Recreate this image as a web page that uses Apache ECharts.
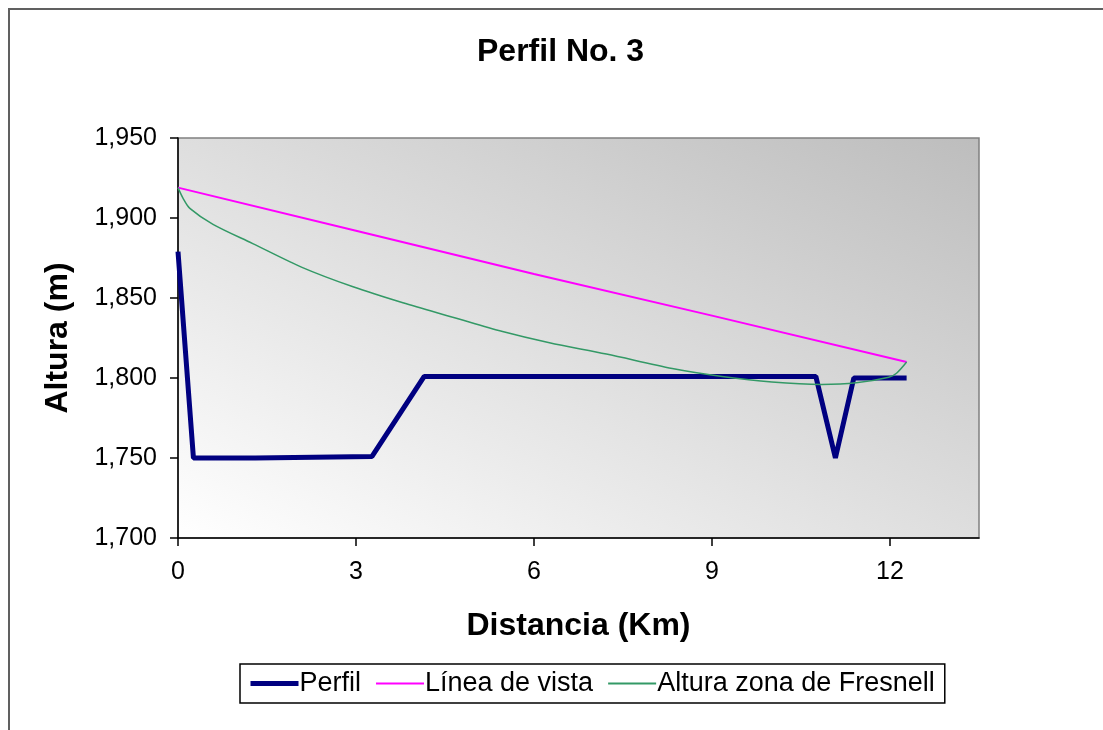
<!DOCTYPE html>
<html>
<head>
<meta charset="utf-8">
<script src="https://cdn.jsdelivr.net/npm/echarts@6/dist/echarts.min.js"></script>
<style>
html,body{margin:0;padding:0;background:#fff;}
#chart{width:1103px;height:730px;}
</style>
</head>
<body>
<div id="chart"></div>
<script>
// Data
const titleText = 'Perfil No. 3';
const seriesNames = ['Perfil', 'Línea de vista', 'Altura zona de Fresnell'];

const distPerfil = [0, 0.26, 1.3, 1.31, 3.27, 4.15, 10.75, 11.08, 11.39, 12.28];
const altPerfil  = [1879, 1750, 1750, 1751, 1751, 1801, 1801, 1750, 1800, 1800];

const distVista = [0, 3, 6, 9, 12.28];
const altVista  = [1919, 1892, 1865, 1839, 1810];

const distFresnel = [0, 0.09, 0.2, 0.59, 1.26, 2.1, 2.95, 3.79, 4.63, 5.47, 6.26, 7.22, 8.33, 9.17, 10.01, 10.85, 11.43, 11.98, 12.11, 12.28];
const altFresnel  = [1919, 1912, 1906, 1896, 1884, 1869, 1857, 1847, 1838, 1829, 1822, 1815, 1806, 1801, 1797.5, 1796, 1797, 1800.5, 1803, 1810];

const xTicks = [0, 3, 6, 9, 12];
const yTicks = [1700, 1750, 1800, 1850, 1900, 1950];

function pairs(xs, ys) { return xs.map((x, i) => [x, ys[i]]); }

const chart = echarts.init(document.getElementById('chart'), null, {renderer: 'canvas'});
const font = 'Arial, "Liberation Sans", sans-serif';

chart.setOption({
  animation: false,
  backgroundColor: '#ffffff',
  graphic: [{
    type: 'rect',
    shape: {x: 9, y: 9, width: 1200, height: 800},
    style: {fill: 'none', stroke: '#606060', lineWidth: 2},
    silent: true, z: -1
  }],
  title: {
    text: titleText,
    left: 477,
    top: 36,
    padding: 0,
    textStyle: {fontFamily: font, fontSize: 32, fontWeight: 'bold', color: '#000'}
  },
  legend: {
    left: 240,
    top: 664,
    orient: 'horizontal',
    itemWidth: 48,
    itemHeight: 12,
    itemGap: 14,
    padding: [6, 10, 6, 8],
    borderColor: '#000',
    borderWidth: 1.5,
    itemStyle: {opacity: 0},
    textStyle: {fontFamily: font, fontSize: 27, color: '#000', padding: [0, 0, 0, -4]},
    data: [
      {name: seriesNames[0], lineStyle: {width: 5, color: '#000080'}},
      {name: seriesNames[1], lineStyle: {width: 2, color: '#ff00ff'}},
      {name: seriesNames[2], lineStyle: {width: 2, color: '#339966'}}
    ]
  },
  grid: {
    left: 178, top: 138, right: 124, bottom: 192,
    show: true,
    borderColor: '#808080',
    borderWidth: 1.5,
    backgroundColor: new echarts.graphic.LinearGradient(418.6, 658.2, 738.4, 17.8, [
      {offset: 0, color: '#ffffff'},
      {offset: 1, color: '#bdbdbd'}
    ], true)
  },
  xAxis: {
    type: 'value',
    min: 0, max: 13.5, interval: 3,
    name: 'Distancia (Km)',
    nameLocation: 'middle',
    nameGap: 72,
    nameTextStyle: {fontFamily: font, fontSize: 32, fontWeight: 'bold', color: '#000'},
    axisLine: {show: true, onZero: false, lineStyle: {color: '#000', width: 1.5}},
    axisTick: {show: true, inside: false, length: 8, lineStyle: {color: '#000', width: 1.5}},
    axisLabel: {
      margin: 22,
      fontFamily: font, fontSize: 25, color: '#000',
      showMaxLabel: false,
      formatter: v => (xTicks.indexOf(v) >= 0 ? String(v) : '')
    },
    splitLine: {show: false}
  },
  yAxis: {
    type: 'value',
    min: 1700, max: 1950, interval: 50,
    name: 'Altura (m)',
    nameLocation: 'middle',
    nameGap: 104,
    nameTextStyle: {fontFamily: font, fontSize: 32, fontWeight: 'bold', color: '#000'},
    axisLine: {show: true, onZero: false, lineStyle: {color: '#000', width: 1.5}},
    axisTick: {show: true, inside: false, length: 8, lineStyle: {color: '#000', width: 1.5}},
    axisLabel: {
      margin: 21,
      fontFamily: font, fontSize: 25, color: '#000',
      formatter: v => (yTicks.indexOf(v) >= 0 ? v.toLocaleString('en-US') : '')
    },
    splitLine: {show: false}
  },
  series: [
    {
      name: seriesNames[0], type: 'line', symbol: 'none',
      data: pairs(distPerfil, altPerfil),
      lineStyle: {color: '#000080', width: 5},
      itemStyle: {color: '#000080'},
      z: 3
    },
    {
      name: seriesNames[1], type: 'line', symbol: 'none',
      data: pairs(distVista, altVista),
      lineStyle: {color: '#ff00ff', width: 2},
      itemStyle: {color: '#ff00ff'},
      z: 2
    },
    {
      name: seriesNames[2], type: 'line', symbol: 'none',
      smooth: 0.3,
      data: pairs(distFresnel, altFresnel),
      lineStyle: {color: '#339966', width: 1.5},
      itemStyle: {color: '#339966'},
      z: 4
    }
  ]
});
</script>
</body>
</html>
